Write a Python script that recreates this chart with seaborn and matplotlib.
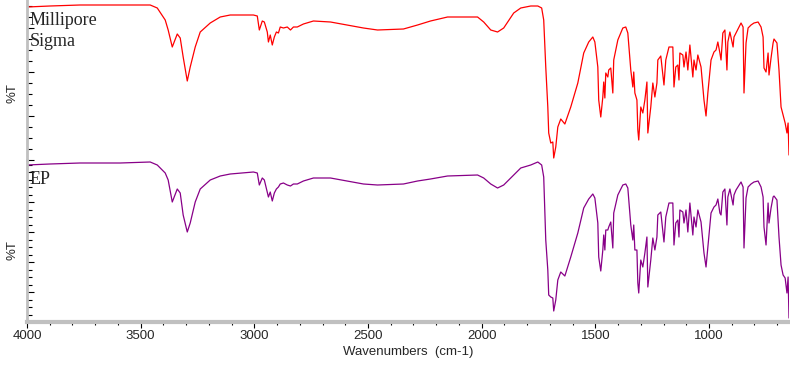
import matplotlib
matplotlib.use("Agg")
import matplotlib.pyplot as plt
import seaborn as sns
from matplotlib.ticker import MultipleLocator

# wavenumbers (cm-1), shared by both spectra
wavenumbers = [
    4000, 3899, 3767, 3590, 3458, 3427, 3392, 3379, 3361, 3339,
    3326, 3313, 3295, 3282, 3260, 3238, 3194, 3150, 3106, 3004,
    2987, 2978, 2965, 2956, 2943, 2938, 2930, 2921, 2912, 2903,
    2894, 2886, 2872, 2855, 2841, 2828, 2811, 2784, 2740, 2665,
    2520, 2458, 2344, 2282, 2225, 2150, 2018, 1991, 1960, 1930,
    1903, 1859, 1828, 1784, 1753, 1736, 1727, 1718, 1709, 1705,
    1696, 1687, 1683, 1674, 1665, 1652, 1634, 1608, 1577, 1551,
    1529, 1511, 1502, 1489, 1485, 1476, 1467, 1463, 1458, 1454,
    1445, 1441, 1432, 1423, 1419, 1401, 1379, 1366, 1357, 1344,
    1335, 1331, 1326, 1317, 1313, 1309, 1300, 1291, 1282, 1273,
    1269, 1256, 1247, 1238, 1229, 1225, 1212, 1198, 1190, 1176,
    1159, 1154, 1146, 1137, 1132, 1128, 1115, 1110, 1101, 1093,
    1084, 1071, 1066, 1057, 1049, 1035, 1022, 1013, 1005, 991,
    978, 969, 961, 952, 947, 939, 930, 921, 917, 908,
    894, 890, 881, 859, 850, 846, 837, 828, 815, 802,
    784, 771, 762, 758, 749, 740, 736, 727, 718, 714,
    701, 692, 683, 674, 665, 657, 652, 648,
]

# %T, Millipore Sigma sample
millipore_t = [
    76.5, 77, 77.5, 77.5, 77.5, 76, 70, 65, 56.5, 63,
    61, 51.5, 39.5, 46.5, 56.5, 64, 68.5, 71.5, 72.5, 72.5,
    72, 65, 69.5, 69, 64, 59, 62.5, 57.5, 61.5, 64,
    63.5, 66.5, 66, 66.5, 65, 66.5, 66.5, 68, 69.5, 69,
    66, 65, 65.5, 67.5, 69.5, 71.5, 71.5, 69, 65, 64,
    66, 73.5, 76, 77, 77, 76, 70, 46.5, 26.5, 13.5,
    8.5, 9, 1, 6.5, 16.5, 20.5, 18, 26.5, 38.5, 53.5,
    59, 61.5, 59, 46.5, 30, 21.5, 31.5, 39, 31, 43.5,
    41.5, 45, 46, 33.5, 50, 60, 66, 66.5, 63.5, 45,
    36.5, 44, 33.5, 30, 15, 10, 26.5, 23.5, 30, 39,
    13.5, 26.5, 38.5, 31.5, 38.5, 50, 52, 37.5, 50, 56.5,
    56.5, 36.5, 46.5, 47.5, 40, 53.5, 52.5, 46.5, 54, 45,
    57.5, 41.5, 50, 45, 52.5, 46.5, 30, 22, 33.5, 50,
    54, 55, 59, 53.5, 50, 63.5, 65, 45, 59, 64,
    56.5, 61.5, 63.5, 68.5, 66.5, 33.5, 58.5, 66, 67.5, 68.5,
    69, 66.5, 61.5, 46, 44, 53.5, 42.5, 51, 58.5, 60.5,
    58.5, 45, 26.5, 22.5, 18.5, 13.5, 18.5, 2.5,
]

# %T, EP reference standard
ep_t = [
    78.5, 79, 79.5, 79.5, 80, 78.5, 74.5, 71, 60, 66.5,
    64.5, 53.5, 45, 49.5, 60, 66.5, 71, 73, 74, 75,
    74.5, 68.5, 72, 71, 65, 62.5, 65, 60.5, 64.5, 66.5,
    67.5, 69, 69.5, 68.5, 68, 69, 69, 70.5, 72, 72,
    69, 68.5, 69, 70.5, 71.5, 73, 73.5, 72, 69, 67,
    68.5, 73.5, 77, 78.5, 80, 78.5, 72.5, 41, 26, 13.5,
    12.5, 12, 5.5, 11, 21, 25, 23, 32.5, 44.5, 57,
    61.5, 64, 62, 49.5, 32.5, 25.5, 36, 43.5, 36, 46,
    46, 47.5, 50, 37, 54.5, 63.5, 68.5, 69, 67, 48.5,
    41, 48.5, 36, 36, 19.5, 14.5, 31, 27.5, 34.5, 42.5,
    17.5, 31, 42, 36, 42.5, 53.5, 55, 40, 52.5, 59.5,
    59.5, 38.5, 49.5, 51, 42.5, 56, 55, 49.5, 56, 45,
    59.5, 43.5, 52.5, 47.5, 56, 50, 34.5, 27.5, 37.5, 54.5,
    57.5, 58.5, 61.5, 54.5, 53.5, 65, 66.5, 48.5, 62.5, 66.5,
    58.5, 63.5, 66, 70, 67.5, 37, 62, 67.5, 69, 70,
    70.5, 67.5, 62.5, 47.5, 38.5, 59.5, 49.5, 57, 62.5, 63,
    61, 42.5, 28.5, 23.5, 22, 14.5, 22.5, 2,
]

x_ticks = [4000, 3500, 3000, 2500, 2000, 1500, 1000]

sns.set_style("white")
plt.rcParams["font.family"] = ["Liberation Sans", "DejaVu Sans"]

W, H = 790, 370
fig = plt.figure(figsize=(W / 100, H / 100), dpi=100)
left = 27 / W
width = 762 / W
ax_top = fig.add_axes([left, (H - 160) / H, width, 160 / H])
ax_bot = fig.add_axes([left, (H - 322) / H, width, 162 / H])

sns.lineplot(x=wavenumbers, y=millipore_t, ax=ax_top, color="#ff0000",
             linewidth=0.9, estimator=None, sort=False)
sns.lineplot(x=wavenumbers, y=ep_t, ax=ax_bot, color="#880088",
             linewidth=0.9, estimator=None, sort=False)

spine_gray = "#c0c0c0"
for ax, ylim, step in [(ax_top, (0, 80), 5.5), (ax_bot, (0, 81), 3.75)]:
    ax.set_xlim(4000, 648)
    ax.set_ylim(*ylim)
    ax.set_facecolor("none")
    for s in ["top", "right", "bottom"]:
        ax.spines[s].set_visible(False)
    ax.spines["left"].set_color(spine_gray)
    ax.spines["left"].set_linewidth(2)
    ax.yaxis.set_major_locator(MultipleLocator(step * 4))
    ax.yaxis.set_minor_locator(MultipleLocator(step))
    ax.tick_params(axis="y", which="major", direction="in", length=5,
                   width=0.8, color="black", labelleft=False, left=True)
    ax.tick_params(axis="y", which="minor", direction="in", length=3.5,
                   width=0.8, color="black", left=True)
    ax.set_ylabel("")

ax_top.set_xticks([])
ax_top.tick_params(axis="x", bottom=False, labelbottom=False)

ax_bot.spines["bottom"].set_visible(True)
ax_bot.spines["bottom"].set_color(spine_gray)
ax_bot.spines["bottom"].set_linewidth(3)
ax_bot.set_xticks(x_ticks)
ax_bot.set_xticklabels([str(t) for t in x_ticks])
ax_bot.xaxis.set_minor_locator(MultipleLocator(100))
ax_bot.tick_params(axis="x", which="major", direction="out", length=4,
                   width=0.8, color="black", labelsize=9.5, pad=2, bottom=True)
ax_bot.tick_params(axis="x", which="minor", direction="out", length=2.5,
                   width=0.8, color="black", bottom=True)
ax_bot.set_xlabel("Wavenumbers  (cm-1)", fontsize=9.5, labelpad=3)

fig.text(13 / W, 1 - 93 / H, "%T", rotation=90, ha="center", va="center",
         fontsize=9.5)
fig.text(13 / W, 1 - 250 / H, "%T", rotation=90, ha="center", va="center",
         fontsize=9.5)

serif = ["Liberation Serif", "DejaVu Serif"]
fig.text(30 / W, 1 - 12 / H, "Millipore\nSigma", ha="left", va="top",
         fontsize=13, family=serif, linespacing=1.3)
fig.text(30 / W, 1 - 171 / H, "EP", ha="left", va="top",
         fontsize=13, family=serif)

fig.savefig("out.png", dpi=100)
